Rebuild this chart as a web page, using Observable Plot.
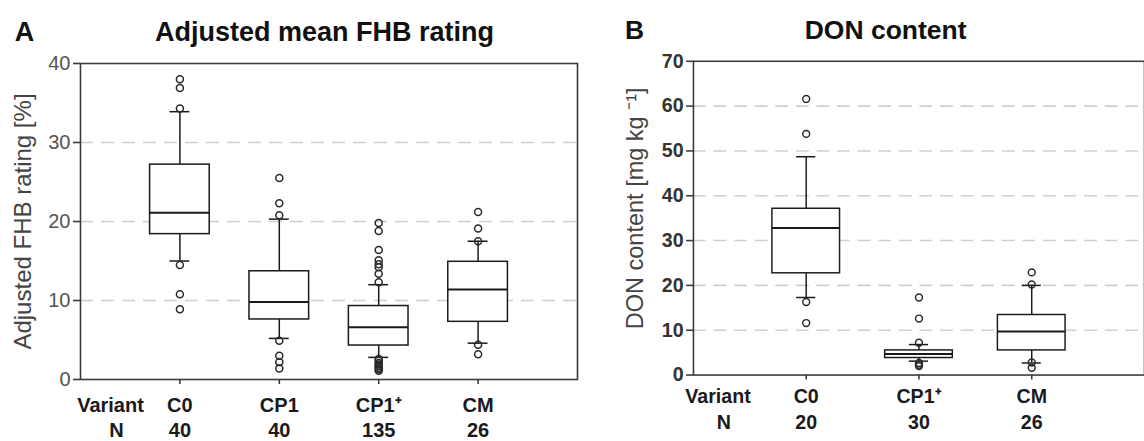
<!DOCTYPE html>
<html>
<head>
<meta charset="utf-8">
<script src="https://cdn.jsdelivr.net/npm/d3@7"></script>
<script src="https://cdn.jsdelivr.net/npm/@observablehq/plot@0.6"></script>
<style>
  html, body { margin: 0; padding: 0; background: #fff; overflow: hidden; }
  #wrap { position: relative; width: 1144px; height: 441px; overflow: hidden; }
  #left { position: absolute; left: 0; top: 0; }
  #right { position: absolute; left: 590px; top: 0; }
  svg text { font-family: "Liberation Sans", Arial, sans-serif; }
</style>
</head>
<body>
<div id="wrap"><div id="left"></div><div id="right"></div></div>
<script>
// ---- Panel A: Adjusted mean FHB rating [%] ----
const fhbCategories = ["C0", "CP1", "CP1\u207A", "CM"];
const fhbN = [40, 40, 135, 26];
const fhbQ1 = [18.4, 7.6, 4.3, 7.3];
const fhbMedian = [21.1, 9.8, 6.6, 11.4];
const fhbQ3 = [27.2, 13.7, 9.3, 14.9];
const fhbWhiskerLow = [15.0, 5.2, 2.8, 4.6];
const fhbWhiskerHigh = [33.9, 20.3, 12.0, 17.5];
const fhbOutliers = [
  [38.0, 36.9, 34.3, 14.5, 10.8, 8.9],
  [25.5, 22.3, 20.8, 4.9, 3.0, 2.2, 1.4],
  [19.8, 18.8, 16.4, 15.1, 14.6, 14.2, 13.4, 12.3, 2.6, 2.4, 2.1, 1.9, 1.7, 1.5, 1.3, 1.1],
  [21.2, 19.1, 17.5, 4.4, 3.2]
];
const fhbTicks = [0, 10, 20, 30, 40];
const fhbGrid = [10, 20, 30];

// ---- Panel B: DON content [mg kg-1] ----
const donCategories = ["C0", "CP1\u207A", "CM"];
const donN = [20, 30, 26];
const donQ1 = [22.7, 3.8, 5.5];
const donMedian = [32.8, 4.7, 9.7];
const donQ3 = [37.1, 5.5, 13.4];
const donWhiskerLow = [17.3, 3.1, 2.7];
const donWhiskerHigh = [48.7, 6.8, 20.0];
const donOutliers = [
  [61.6, 53.8, 16.3, 11.6],
  [17.3, 12.6, 7.2, 2.7, 2.3, 2.0],
  [22.9, 20.2, 2.8, 1.6]
];
const donTicks = [0, 10, 20, 30, 40, 50, 60, 70];
const donGrid = [10, 20, 30, 40, 50, 60];

const rowLabels = ["Variant", "N"];

function panel(o) {
  const stats = o.cats.map((c, k) => ({
    i: k + 1, c, n: o.n[k], q1: o.q1[k], med: o.med[k], q3: o.q3[k], lo: o.lo[k], hi: o.hi[k]
  }));
  const outs = o.out.flatMap((arr, k) => arr.map(v => ({ i: k + 1, v })));
  const hw = 0.3, cw = o.cap;
  const ink = "#1a1a1a";
  const bold = { fontSize: 20, fontWeight: "bold", fill: "#1a1a1a", textAnchor: "middle", lineAnchor: "bottom" };
  return Plot.plot({
    width: o.width, height: 441,
    marginLeft: o.ml, marginRight: o.mr, marginTop: o.mt, marginBottom: o.mb,
    x: { domain: [0, o.cats.length + 1], axis: null },
    y: { domain: [0, o.ymax], axis: null },
    style: { fontFamily: "Liberation Sans, Arial, sans-serif", background: "white", overflow: "visible" },
    marks: [
      Plot.gridY(o.grid, { stroke: "#cfcfcf", strokeOpacity: 1, strokeWidth: 1.6, strokeDasharray: "13,8" }),
      Plot.ruleX(stats, { x: "i", y1: "q3", y2: "hi", stroke: ink, strokeWidth: 1.5 }),
      Plot.ruleX(stats, { x: "i", y1: "lo", y2: "q1", stroke: ink, strokeWidth: 1.5 }),
      Plot.ruleY(stats, { y: "hi", x1: d => d.i - cw, x2: d => d.i + cw, stroke: ink, strokeWidth: 1.5 }),
      Plot.ruleY(stats, { y: "lo", x1: d => d.i - cw, x2: d => d.i + cw, stroke: ink, strokeWidth: 1.5 }),
      Plot.rect(stats, { x1: d => d.i - hw, x2: d => d.i + hw, y1: "q1", y2: "q3", fill: "white", stroke: ink, strokeWidth: 1.5 }),
      Plot.ruleY(stats, { y: "med", x1: d => d.i - hw, x2: d => d.i + hw, stroke: ink, strokeWidth: 2 }),
      Plot.dot(outs, { x: "i", y: "v", r: 3.5, stroke: "#2a2a2a", fill: "none", strokeWidth: 1.5 }),
      Plot.frame({ stroke: "#3a3a3a", strokeWidth: 1.6 }),
      Plot.axisY({ ticks: o.ticks, tickSize: 7, tickPadding: 3, fontSize: 20, label: null,
        stroke: "#3a3a3a", strokeWidth: 1.6, fill: o.tickFill, fontWeight: o.tickWeight }),
      Plot.axisX({ ticks: stats.map(d => d.i), tickSize: 5, tickFormat: () => "", label: null,
        stroke: "#3a3a3a", strokeWidth: 1.6 }),
      Plot.text(stats, { x: "i", text: "c", frameAnchor: "bottom", dy: o.row1, ...bold }),
      Plot.text(stats, { x: "i", text: d => String(d.n), frameAnchor: "bottom", dy: o.row2, ...bold }),
      Plot.text([rowLabels[0]], { frameAnchor: "bottom-left", dx: o.rowDx, dy: o.row1, ...bold }),
      Plot.text([rowLabels[1]], { frameAnchor: "bottom-left", dx: o.rowDx + 6, dy: o.row2, ...bold }),
      Plot.text([o.title], { frameAnchor: "top-left", textAnchor: "middle", lineAnchor: "bottom", dx: o.titleDx, dy: -23,
        fontSize: 27, fontWeight: "bold", fill: "#111" }),
      Plot.text([o.letter], { frameAnchor: "top-left", textAnchor: "middle", lineAnchor: "bottom", dx: o.letterDx, dy: -23,
        fontSize: 27, fontWeight: "bold", fill: "#111" }),
      Plot.text([o.ylabel], { frameAnchor: "left", textAnchor: "middle", lineAnchor: "middle", rotate: -90,
        dx: o.ylabelDx, dy: o.ylabelDy, fontSize: 24, fill: "#444" })
    ]
  });
}

document.getElementById("left").append(panel({
  cats: fhbCategories, n: fhbN, q1: fhbQ1, med: fhbMedian, q3: fhbQ3,
  lo: fhbWhiskerLow, hi: fhbWhiskerHigh, out: fhbOutliers,
  ymax: 40, ticks: fhbTicks, grid: fhbGrid, cap: 0.1,
  width: 588, ml: 80, mr: 11, mt: 63, mb: 62,
  row1: 32, row2: 57, rowDx: 30,
  title: "Adjusted mean FHB rating", titleDx: 244, letter: "A", letterDx: -56,
  ylabel: "Adjusted FHB rating [%]", ylabelDx: -57, ylabelDy: 0,
  tickFill: "#555", tickWeight: "normal"
}));

document.getElementById("right").append(panel({
  cats: donCategories, n: donN, q1: donQ1, med: donMedian, q3: donQ3,
  lo: donWhiskerLow, hi: donWhiskerHigh, out: donOutliers,
  ymax: 70, ticks: donTicks, grid: donGrid, cap: 0.085,
  width: 565, ml: 105, mr: 0, mt: 62, mb: 59,
  row1: 29, row2: 55, rowDx: 25,
  title: "DON content", titleDx: 196, letter: "B", letterDx: -60,
  ylabel: "DON content [mg kg \u207B\u00B9]", ylabelDx: -59, ylabelDy: -10,
  tickFill: "#333", tickWeight: "bold"
}));
</script>
</body>
</html>
